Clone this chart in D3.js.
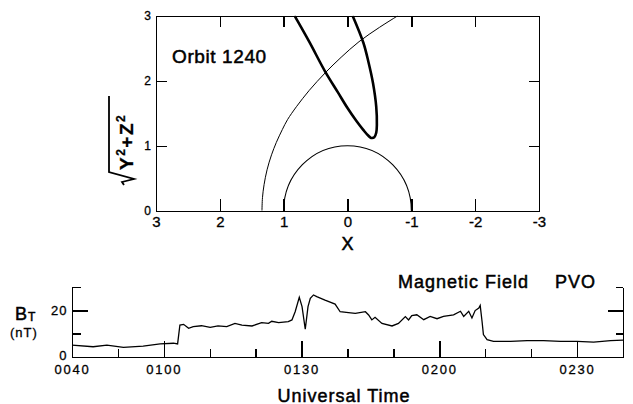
<!DOCTYPE html>
<html>
<head>
<meta charset="utf-8">
<script src="https://cdn.jsdelivr.net/npm/d3@7"></script>
<style>
  body { margin: 0; background: #fff; }
  svg { font-family: 'Liberation Sans', Arial, sans-serif; }
  .axis path, .axis line { stroke: #000; stroke-width: 1.4px; shape-rendering: crispEdges; }
  .axis text { fill: #000; }
  text { stroke: #000; stroke-width: 0.3px; }
  .label { stroke-width: 0.5px; }
</style>
</head>
<body>
<script>
// orbit plot data (planet radii)
var xTicks = [3, 2, 1, 0, -1, -2, -3];
var xTickLabels = ['3', '2', '1', '0', '-1', '-2', '-3'];
var rhoTicks = [0, 1, 2, 3];
var orbitX   = [0.83, 0.60, 0.35, 0.15, 0.00, -0.14, -0.25, -0.32, -0.37, -0.42, -0.45, -0.46, -0.45, -0.40, -0.33, -0.25, -0.08];
var orbitRho = [3.00, 2.60, 2.14, 1.82, 1.58,  1.38,  1.24,  1.16,  1.12,  1.13,  1.20,  1.32,  1.60,  1.96,  2.28,  2.58,  3.00];
var shockX   = [1.34, 1.332, 1.307, 1.26, 1.19, 1.115, 1.02, 0.94, 0.80, 0.60, 0.35, 0.10, -0.18, -0.50, -0.79];
var shockRho = [0.00, 0.20,  0.40,  0.63, 0.86, 1.05,  1.25, 1.40, 1.60, 1.85, 2.12, 2.36,  2.60,  2.82,  3.00];
var planetRadius = 1;

// magnetic field data (minutes after 0000 UT, nT)
var timeMin = [40, 44.6, 47.6, 51.2, 55.5, 59.2, 62.1, 63.0, 63.5, 64.3, 65.4, 66.4, 68.2, 70.1, 71.8, 73.7,
  75.5, 77.0, 79.2, 81.3, 82.8, 83.5, 85.0, 87.1, 87.9, 88.6, 89.5, 90.1, 90.8, 91.4, 91.9, 92.6,
  93.3, 95.1, 97.3, 98.4, 100.2, 101.7, 103.9, 104.6, 105.3, 106.0, 107.5, 109.7, 111.1, 112.6, 113.3,
  114.0, 115.1, 116.6, 118.0, 119.5, 120.9, 123.1, 124.6, 125.3, 126.4, 127.1, 127.8, 128.6, 128.9,
  129.3, 129.6, 130.4, 131.8, 135.5, 139.1, 142.7, 146.4, 150.0, 153.6, 157.3, 160];
var fieldNT = [5.1, 4.4, 5.1, 4.1, 4.7, 5.6, 5.9, 5.6, 13.7, 14.0, 12.3, 13.0, 13.4, 12.7, 13.3, 13.0,
  14.4, 13.7, 13.3, 14.7, 14.4, 15.3, 14.7, 15.2, 15.9, 19.4, 25.6, 21.6, 11.9, 21.6, 25.1, 26.6,
  25.9, 24.4, 22.7, 19.4, 19.0, 18.7, 19.4, 18.0, 15.9, 17.0, 14.4, 13.3, 14.4, 17.3, 15.9,
  17.7, 18.1, 16.0, 17.4, 16.4, 17.4, 18.1, 19.6, 17.4, 19.6, 16.7, 19.9, 21.0, 22.1,
  15.3, 9.6, 7.4, 6.7, 6.7, 7.0, 7.0, 6.7, 6.7, 6.4, 7.0, 7.2];
var minorTimeTicks = [50, 70, 80, 100, 110, 130, 140, 160];
var majorTimeTicks = [40, 60, 90, 120, 150];
var fieldMinorTicks = [10, 30];
var fieldMajorTicks = [0, 20];

var svg = d3.select('body')
  .append('svg')
    .attr('width', 633)
    .attr('height', 404);

// ---------- orbit panel ----------
var x = d3.scaleLinear().domain([3, -3]).range([156, 539]);
var y = d3.scaleLinear().domain([0, 3]).range([210.7, 15.7]);

svg.append('defs').append('clipPath')
    .attr('id', 'clip')
  .append('rect')
    .attr('x', x(3)).attr('y', y(3))
    .attr('width', x(-3) - x(3)).attr('height', y(0) - y(3));

var orbitPanel = svg.append('g');

orbitPanel.append('g')
    .attr('class', 'axis')
    .attr('transform', 'translate(0,' + y(0) + ')')
    .call(d3.axisBottom(x).tickValues(xTicks).tickSizeInner(-12).tickSizeOuter(0).tickPadding(5.6)
      .tickFormat(function(d, i) { return xTickLabels[i]; }))
    .selectAll('text').style('font-size', '15px');

orbitPanel.append('g')
    .attr('class', 'axis')
    .attr('transform', 'translate(0,' + y(3) + ')')
    .call(d3.axisTop(x).tickValues([2, 1, 0, -1, -2]).tickSizeInner(-11).tickSizeOuter(0).tickFormat(''));

orbitPanel.append('g')
    .attr('class', 'axis')
    .attr('transform', 'translate(' + x(3) + ',0)')
    .call(d3.axisLeft(y).tickValues(rhoTicks).tickSizeInner(-11).tickSizeOuter(0).tickPadding(5).tickFormat(d3.format('d')))
    .selectAll('text').style('font-size', '12px');

orbitPanel.append('g')
    .attr('class', 'axis')
    .attr('transform', 'translate(' + x(-3) + ',0)')
    .call(d3.axisRight(y).tickValues([1, 2]).tickSizeInner(-10).tickSizeOuter(0).tickFormat(''));

// planet
orbitPanel.append('ellipse')
    .attr('cx', x(0)).attr('cy', y(0))
    .attr('rx', x(0) - x(planetRadius)).attr('ry', y(0) - y(planetRadius))
    .attr('clip-path', 'url(#clip)')
    .attr('fill', 'none').attr('stroke', '#000').attr('stroke-width', 1.1);

var line = d3.line()
    .x(function(d) { return x(d[0]); })
    .y(function(d) { return y(d[1]); })
    .curve(d3.curveCatmullRom);

// bow shock
orbitPanel.append('path')
    .datum(d3.zip(shockX, shockRho))
    .attr('d', line)
    .attr('clip-path', 'url(#clip)')
    .attr('fill', 'none').attr('stroke', '#000').attr('stroke-width', 1);

// orbit
orbitPanel.append('path')
    .datum(d3.zip(orbitX, orbitRho))
    .attr('d', line)
    .attr('clip-path', 'url(#clip)')
    .attr('fill', 'none').attr('stroke', '#000').attr('stroke-width', 2.6);

orbitPanel.append('text')
    .attr('class', 'label')
    .attr('x', 172).attr('y', 62.5)
    .style('font-size', '19px').style('letter-spacing', '0.6px')
    .text('Orbit  1240');

orbitPanel.append('text')
    .attr('class', 'label')
    .attr('x', x(0)).attr('y', 250)
    .attr('text-anchor', 'middle')
    .style('font-size', '18px')
    .text('X');

// y label: sqrt(Y^2 + Z^2)
var ylab = orbitPanel.append('g')
    .attr('transform', 'translate(133,170) rotate(-90)');

var ytext = ylab.append('text')
    .style('font-size', '19px').style('font-weight', 'bold').style('letter-spacing', '1.5px');
ytext.append('tspan').text('Y');
ytext.append('tspan').attr('dy', -8).style('font-size', '12px').text('2');
ytext.append('tspan').attr('dy', 8).text('+');
ytext.append('tspan').text('Z');
ytext.append('tspan').attr('dy', -8).style('font-size', '12px').text('2');

ylab.append('path')
    .attr('d', 'M-15,-9 L-12,-11 L-9,1 L-2,-24 L74,-24')
    .attr('fill', 'none').attr('stroke', '#000').attr('stroke-width', 1.8);

// ---------- magnetic field panel ----------
var t = d3.scaleLinear().domain([40, 160]).range([72, 623]);
var b = d3.scaleLinear().domain([0, 30]).range([357, 287]);

function hhmm(d) {
  var h = Math.floor(d / 60), m = d % 60;
  return (h < 10 ? '0' : '') + h + (m < 10 ? '0' : '') + m;
}

var fieldPanel = svg.append('g');

fieldPanel.append('g')
    .attr('class', 'axis')
    .attr('transform', 'translate(0,' + b(0) + ')')
    .call(d3.axisBottom(t).tickValues(minorTimeTicks).tickSizeInner(-8).tickSizeOuter(0).tickFormat(''));

fieldPanel.append('g')
    .attr('class', 'axis')
    .attr('transform', 'translate(0,' + b(0) + ')')
    .call(d3.axisBottom(t).tickValues(majorTimeTicks).tickSizeInner(-16).tickSizeOuter(0).tickPadding(7.8).tickFormat(hhmm))
    .selectAll('text').style('font-size', '13px').style('letter-spacing', '1.8px');

var leftMajor = fieldPanel.append('g')
    .attr('class', 'axis')
    .attr('transform', 'translate(' + t(40) + ',0)')
    .call(d3.axisLeft(b).tickValues(fieldMajorTicks).tickSizeInner(-16).tickSizeOuter(0).tickPadding(4.5));
leftMajor.selectAll('text').style('font-size', '13px').style('letter-spacing', '1px');
leftMajor.selectAll('.tick').filter(function(d) { return d === 0; })
  .select('text').attr('y', -1.5);

fieldPanel.append('g')
    .attr('class', 'axis')
    .attr('transform', 'translate(' + t(40) + ',0)')
    .call(d3.axisLeft(b).tickValues(fieldMinorTicks).tickSizeInner(-9).tickSizeOuter(0).tickFormat(''));

fieldPanel.append('g')
    .attr('class', 'axis')
    .attr('transform', 'translate(' + t(160) + ',0)')
    .call(d3.axisRight(b).tickValues(fieldMinorTicks).tickSizeInner(-7).tickSizeOuter(0).tickFormat(''));

fieldPanel.append('g')
    .attr('class', 'axis')
    .attr('transform', 'translate(' + t(160) + ',0)')
    .call(d3.axisRight(b).tickValues([20]).tickSizeInner(-15).tickSizeOuter(0).tickFormat(''));

fieldPanel.append('path')
    .datum(d3.zip(timeMin, fieldNT))
    .attr('d', d3.line()
      .x(function(d) { return t(d[0]); })
      .y(function(d) { return b(d[1]); }))
    .attr('fill', 'none').attr('stroke', '#000').attr('stroke-width', 1.3);

var bt = fieldPanel.append('text')
    .attr('class', 'label')
    .attr('x', 15).attr('y', 319.5)
    .style('font-size', '18px');
bt.append('tspan').text('B');
bt.append('tspan').attr('dx', 1).attr('dy', 1.5).style('font-size', '12px').text('T');

fieldPanel.append('text')
    .attr('x', 10).attr('y', 336.5)
    .style('font-size', '13px').style('letter-spacing', '1px')
    .text('(nT)');

fieldPanel.append('text')
    .attr('class', 'label')
    .attr('x', 398).attr('y', 288.3)
    .style('font-size', '18px').style('letter-spacing', '1px')
    .text('Magnetic Field');

fieldPanel.append('text')
    .attr('class', 'label')
    .attr('x', 555).attr('y', 288.3)
    .style('font-size', '18px').style('letter-spacing', '1px')
    .text('PVO');

fieldPanel.append('text')
    .attr('class', 'label')
    .attr('x', 344).attr('y', 401.5)
    .attr('text-anchor', 'middle')
    .style('font-size', '18px').style('letter-spacing', '1px')
    .text('Universal Time');
</script>
</body>
</html>
